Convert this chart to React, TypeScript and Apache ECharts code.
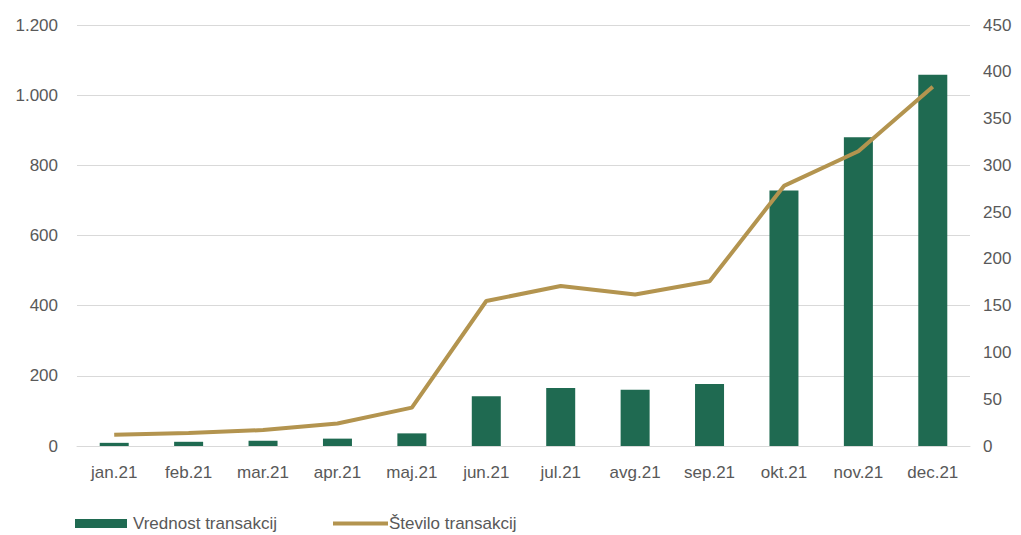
import React, { useEffect, useRef } from "react";
import * as echarts from "echarts";

const categories = ["jan.21", "feb.21", "mar.21", "apr.21", "maj.21", "jun.21", "jul.21", "avg.21", "sep.21", "okt.21", "nov.21", "dec.21"];
const vrednost = [9, 12, 15, 21, 36, 142, 165, 160, 177, 728, 880, 1058];
const stevilo = [12, 14, 17, 24, 41, 155, 171, 162, 176, 278, 315, 384];

const TEXT = "#595959";
const FONT = "'Liberation Sans', Arial, sans-serif";
const FS = 17;

const fmt = (v: number) => {
  const s = String(Math.round(v));
  return s.replace(/\B(?=(\d{3})+(?!\d))/g, ".");
};

export default function App() {
  const ref = useRef<HTMLDivElement>(null);
  useEffect(() => {
    document.body.style.margin = "0";
    const chart = echarts.init(ref.current!, null, { renderer: "svg" });
    chart.setOption({
      animation: false,
      backgroundColor: "#ffffff",
      textStyle: { fontFamily: FONT, color: TEXT },
      grid: { left: 77, right: 51, top: 25, bottom: 89 },
      legend: [
        {
          data: [{ name: "Vrednost transakcij", icon: "rect" }],
          left: 75,
          top: 515,
          itemWidth: 52,
          itemHeight: 9,
          textStyle: { fontSize: FS, color: TEXT, fontFamily: FONT, padding: [0, 0, 0, 1] },
          padding: 0,
        },
        {
          data: [{ name: "Število transakcij", icon: "rect" }],
          left: 333,
          top: 515,
          itemWidth: 55,
          itemHeight: 4,
          textStyle: { fontSize: FS, color: TEXT, fontFamily: FONT, padding: [0, 0, 0, -4] },
          padding: 0,
        },
      ],
      xAxis: {
        type: "category",
        data: categories,
        axisTick: { show: false },
        axisLine: { lineStyle: { color: "#d9d9d9", width: 1 } },
        axisLabel: { color: TEXT, fontSize: FS, fontFamily: FONT, margin: 18, interval: 0 },
      },
      yAxis: [
        {
          type: "value",
          min: 0,
          max: 1200,
          interval: 200,
          axisLine: { show: false },
          axisTick: { show: false },
          splitLine: { lineStyle: { color: "#d9d9d9", width: 1 } },
          axisLabel: { color: TEXT, fontSize: FS, fontFamily: FONT, margin: 19, formatter: fmt },
        },
        {
          type: "value",
          min: 0,
          max: 450,
          interval: 50,
          axisLine: { show: false },
          axisTick: { show: false },
          splitLine: { show: false },
          axisLabel: { color: TEXT, fontSize: FS, fontFamily: FONT, margin: 13, formatter: fmt },
        },
      ],
      series: [
        {
          name: "Vrednost transakcij",
          type: "bar",
          data: vrednost,
          barWidth: 29,
          itemStyle: { color: "#1F6A51" },
          yAxisIndex: 0,
        },
        {
          name: "Število transakcij",
          type: "line",
          data: stevilo,
          yAxisIndex: 1,
          symbol: "none",
          lineStyle: { color: "#B3944F", width: 4 },
          itemStyle: { color: "#B3944F" },
        },
      ],
    });
    return () => chart.dispose();
  }, []);
  return <div ref={ref} style={{ width: 1021, height: 535 }} />;
}
